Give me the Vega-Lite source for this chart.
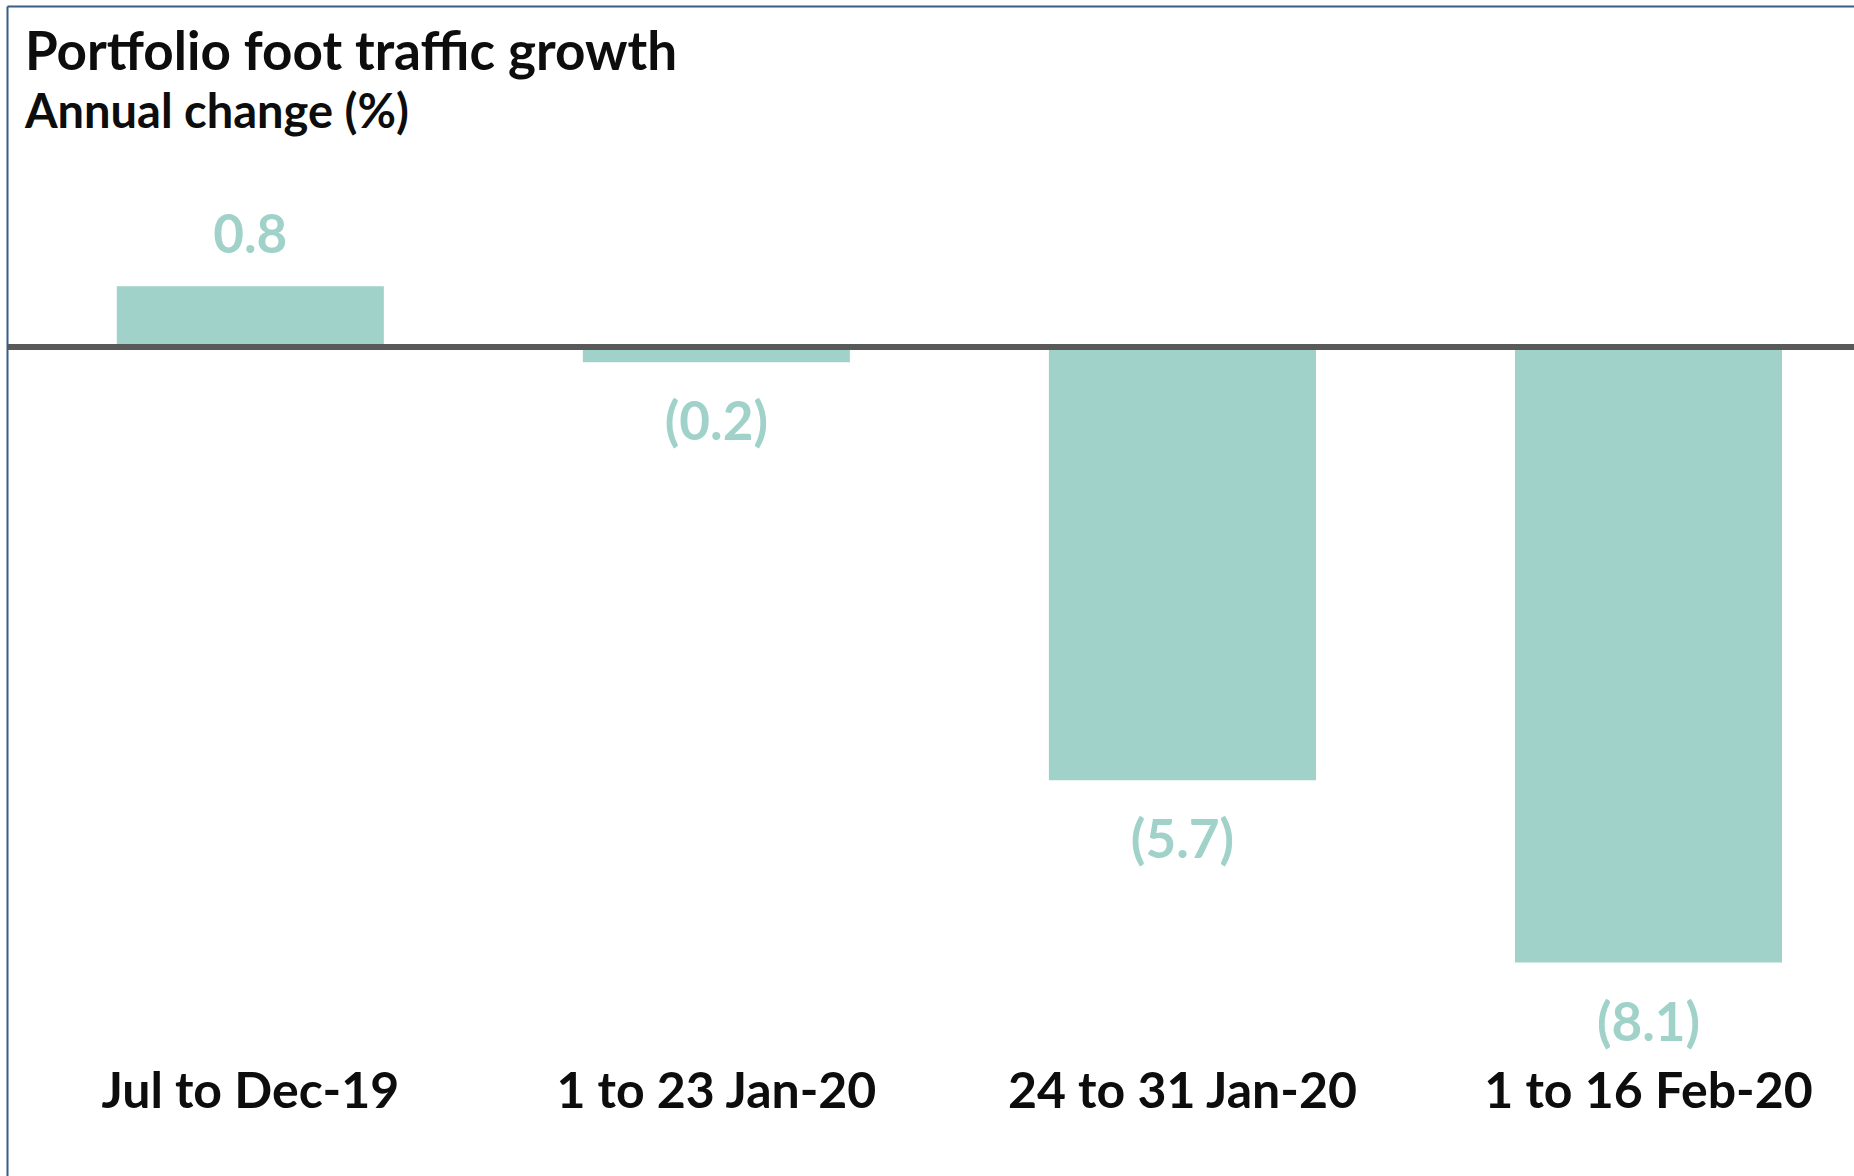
{
  "$schema": "https://vega.github.io/schema/vega-lite/v6.json",
  "autosize": {"type": "none"},
  "padding": {"left": 7, "top": 6, "right": 0, "bottom": 0},
  "width": 1847,
  "height": 1170,
  "background": "#ffffff",
  "config": {
    "view": {"stroke": null},
    "font": "Lato",
    "axis": {"grid": false}
  },
  "title": {
    "text": "Portfolio foot traffic growth",
    "subtitle": "Annual change (%)",
    "anchor": "start",
    "frame": "group",
    "orient": "top",
    "offset": -131,
    "dx": 18,
    "font": "Lato",
    "fontSize": 53,
    "fontWeight": "bold",
    "color": "#0D0D0D",
    "subtitleFont": "Lato",
    "subtitleFontSize": 47,
    "subtitleFontWeight": "bold",
    "subtitleColor": "#0D0D0D",
    "subtitlePadding": 10
  },
  "data": {
    "values": [
      {"period": "Jul to Dec-19", "value": 0.8, "label": "0.8"},
      {"period": "1 to 23 Jan-20", "value": -0.2, "label": "(0.2)"},
      {"period": "24 to 31 Jan-20", "value": -5.7, "label": "(5.7)"},
      {"period": "1 to 16 Feb-20", "value": -8.1, "label": "(8.1)"}
    ]
  },
  "encoding": {
    "x": {
      "field": "period",
      "type": "nominal",
      "sort": null,
      "scale": {"paddingInner": 0.427, "paddingOuter": 0.195, "align": 0.604}
    },
    "y": {
      "field": "value",
      "type": "quantitative",
      "scale": {"domain": [-10.908, 4.487], "nice": false, "zero": false},
      "axis": {"orient": "left", "labels": false, "ticks": false, "grid": false, "title": null, "domain": true, "domainColor": "#385D8A", "domainWidth": 2}
    }
  },
  "layer": [
    {
      "mark": {"type": "bar", "color": "#A0D2CA"},
      "encoding": {
        "x": {
          "field": "period",
          "type": "nominal",
          "sort": null,
          "axis": {
            "orient": "bottom",
            "title": null,
            "domain": false,
            "ticks": false,
            "tickSize": 0,
            "labelPadding": 0,
            "labelBaseline": "alphabetic",
            "labelAngle": 0,
            "labelFont": "Lato",
            "labelFontSize": 50,
            "labelFontWeight": "bold",
            "labelColor": "#0D0D0D",
            "labelLimit": 0,
            "labelOverlap": false,
            "offset": -69
          }
        }
      }
    },
    {
      "mark": {"type": "rule", "color": "#595959", "strokeWidth": 6},
      "encoding": {
        "y": {
          "datum": 0,
          "type": "quantitative",
          "axis": {"orient": "left", "labels": false, "ticks": false, "grid": false, "title": null, "domain": true, "domainColor": "#385D8A", "domainWidth": 2}
        },
        "x": null
      }
    },
    {
      "transform": [{"filter": "datum.value > 0"}],
      "mark": {"type": "text", "font": "Lato", "fontSize": 53, "fontWeight": "bold", "color": "#A0D2CA", "baseline": "alphabetic", "dy": -33},
      "encoding": {
        "text": {"field": "label"},
        "x": {
          "field": "period",
          "type": "nominal",
          "sort": null,
          "axis": {"orient": "top", "title": null, "labels": false, "ticks": false, "domain": true, "domainColor": "#385D8A", "domainWidth": 2}
        }
      }
    },
    {
      "transform": [{"filter": "datum.value < 0"}],
      "mark": {"type": "text", "font": "Lato", "fontSize": 53, "fontWeight": "bold", "color": "#A0D2CA", "baseline": "alphabetic", "dy": 78},
      "encoding": {
        "text": {"field": "label"},
        "x": {"field": "period", "type": "nominal", "sort": null, "axis": null}
      }
    }
  ],
  "resolve": {"axis": {"x": "independent"}}
}
